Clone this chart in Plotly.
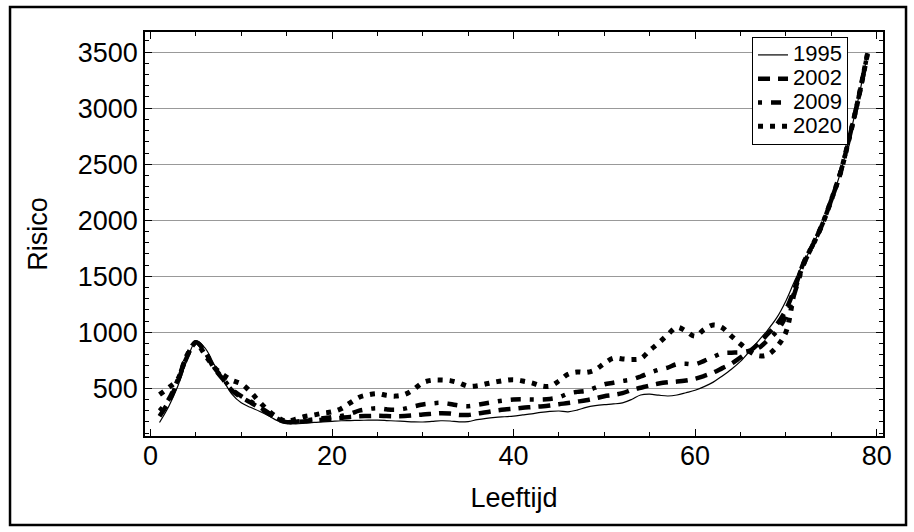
import plotly.graph_objects as go

ages = list(range(1, 80))

risk_1995 = [195, 335, 515, 745, 915, 860, 715, 575, 445, 370,
             330, 295, 255, 210, 188, 182, 188, 195, 200, 205,
             210, 212, 214, 215, 215, 212, 208, 204, 200, 199,
             204, 210, 208, 200, 203, 220, 232, 240, 246, 252,
             262, 272, 284, 293, 297, 290, 305, 330, 345, 354,
             360, 370, 400, 440, 447, 438, 431, 440, 460, 482,
             515, 555, 610, 670, 740, 830, 925, 1020, 1130, 1280,
             1464, 1630, 1785, 1960, 2180, 2420, 2740, 3090, 3490]

risk_2002 = [250, 380, 560, 775, 910, 825, 680, 580, 480, 420,
             375, 325, 275, 225, 198, 200, 205, 212, 220, 228,
             236, 244, 250, 252, 254, 252, 250, 252, 258, 266,
             272, 278, 274, 262, 262, 275, 286, 300, 311, 318,
             326, 332, 338, 346, 358, 368, 380, 393, 410, 429,
             440, 456, 485, 505, 525, 542, 553, 560, 570, 585,
             610, 640, 680, 720, 775, 830, 900, 985, 1070, 1200,
             1400, 1630, 1785, 1960, 2180, 2420, 2740, 3090, 3490]

risk_2009 = [300, 400, 575, 785, 910, 830, 690, 585, 490, 430,
             385, 335, 280, 228, 200, 202, 212, 222, 232, 242,
             252, 272, 300, 315, 322, 312, 308, 318, 338, 355,
             365, 370, 360, 346, 340, 352, 366, 380, 392, 400,
             402, 400, 400, 405, 420, 452, 468, 478, 505, 535,
             550, 565, 578, 605, 638, 665, 685, 715, 718, 714,
             745, 780, 812, 818, 820, 835, 860, 930, 1010, 1140,
             1360, 1610, 1785, 1960, 2180, 2420, 2740, 3090, 3490]

risk_2020 = [445, 505, 580, 790, 905, 800, 690, 620, 570, 540,
             470, 380, 300, 240, 205, 225, 248, 262, 278, 290,
             318, 370, 420, 442, 452, 437, 430, 445, 490, 550,
             572, 574, 568, 548, 518, 522, 540, 556, 570, 577,
             565, 548, 522, 518, 565, 625, 645, 642, 665, 722,
             768, 762, 757, 765, 838, 905, 980, 1045, 1010, 965,
             1025, 1065, 1040, 965, 895, 830, 790, 800, 870, 1000,
             1380, 1620, 1785, 1960, 2180, 2420, 2740, 3090, 3490]

series_names = ["1995", "2002", "2009", "2020"]
series_values = [risk_1995, risk_2002, risk_2009, risk_2020]
dashes = ["solid", "12px,8px", "4px,9px,10px,9px", "5px,7px"]
widths = [1.2, 4.5, 4.5, 5]

FONT = "Liberation Sans, Arial, sans-serif"

fig = go.Figure()
for name, vals, dash, w in zip(series_names, series_values, dashes, widths):
    fig.add_trace(go.Scatter(
        x=ages, y=vals, mode="lines",
        name='<span style="font-size:22px">' + name + '</span>',
        line=dict(color="black", width=w, dash=dash, shape="spline"),
    ))

fig.update_layout(
    width=914, height=532,
    margin=dict(l=145, r=31, t=32, b=96),
    paper_bgcolor="white", plot_bgcolor="white",
    font=dict(family=FONT, color="black", size=27),
    legend=dict(
        x=0.9526, xanchor="right", y=0.9876, yanchor="top",
        bgcolor="white", bordercolor="black", borderwidth=1,
        font=dict(family=FONT, size=16, color="black"),
        itemwidth=30, tracegroupgap=0,
    ),
    shapes=[dict(type="rect", xref="paper", yref="paper",
                 x0=-0.1829, x1=1.0312, y0=-0.2203, y1=1.0619,
                 line=dict(color="black", width=2.5), layer="below")],
)

fig.update_xaxes(
    range=[-0.6, 80.7], tickvals=[0, 20, 40, 60, 80],
    ticks="inside", ticklen=7, tickwidth=1, tickcolor="black",
    minor=dict(dtick=5, tick0=0, ticks="inside", ticklen=4, tickcolor="black", showgrid=False),
    showline=True, linecolor="black", linewidth=1.5, mirror="allticks",
    showgrid=False, zeroline=False,
    tickfont=dict(size=27), ticklabelstandoff=-5,
    title=dict(text="Leeftijd", font=dict(size=27), standoff=18),
)
fig.update_yaxes(
    range=[74, 3680], tickvals=[500, 1000, 1500, 2000, 2500, 3000, 3500],
    ticks="inside", ticklen=7, tickwidth=1, tickcolor="black",
    minor=dict(dtick=100, tick0=0, ticks="inside", ticklen=4, tickcolor="black", showgrid=False),
    showline=True, linecolor="black", linewidth=1.5, mirror="allticks",
    showgrid=True, gridcolor="#999999", gridwidth=1, zeroline=False,
    tickfont=dict(size=27),
    title=dict(text="Risico", font=dict(size=27), standoff=22),
)

fig.write_html("out.html")
